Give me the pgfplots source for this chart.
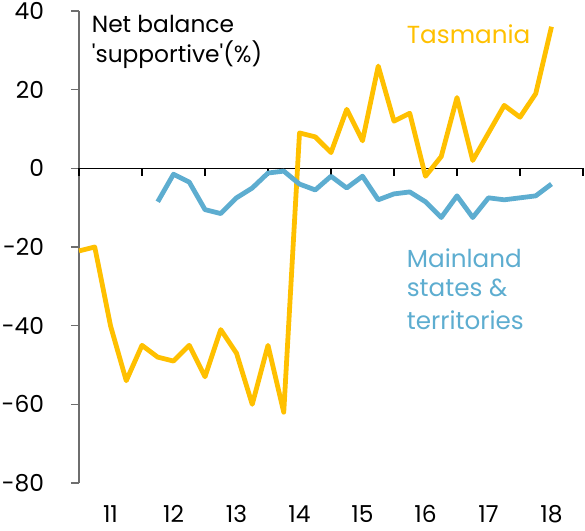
\documentclass[border=0pt]{standalone}
\usepackage{fontspec}
\setmainfont{Poppins}
\usepackage{pgfplots}
\pgfplotsset{compat=1.18}
\definecolor{tas}{RGB}{255,192,0}
\definecolor{mainl}{RGB}{93,173,208}
\definecolor{axgray}{RGB}{110,110,110}

\begin{document}
\begin{tikzpicture}
\begin{axis}[
    scale only axis, width=378pt, height=354pt,
    xmin=11, xmax=19, ymin=-80, ymax=40,
    axis y line=left, axis x line=bottom,
    axis line style={-},
    x axis line style={draw=none},
    y axis line style={draw=axgray, line width=0.8pt},
    xtick={11,...,19}, xticklabels={11,12,13,14,15,16,17,18},
    x tick label as interval,
    xtick style={draw=none},
    ytick={-80,-60,...,40},
    ytick style={draw=axgray, line width=0.8pt},
    tick align=outside, major tick length=6pt,
    tick label style={font=\fontsize{17.5}{17.5}\selectfont},
    /pgf/number format/assume math mode=true,
    xticklabel style={anchor=base, yshift=-24pt},
    yticklabel style={anchor=east, inner sep=0pt, xshift=-20pt},
    clip=false,
]
    \draw[black, line width=0.8pt] (axis cs:11,0) -- (axis cs:19,0);
    \draw[black, line width=0.8pt]
        (axis cs:11,0) -- (axis cs:11,-2) (axis cs:12,0) -- (axis cs:12,-2)
        (axis cs:13,0) -- (axis cs:13,-2) (axis cs:14,0) -- (axis cs:14,-2)
        (axis cs:15,0) -- (axis cs:15,-2) (axis cs:16,0) -- (axis cs:16,-2)
        (axis cs:17,0) -- (axis cs:17,-2) (axis cs:18,0) -- (axis cs:18,-2)
        (axis cs:19,0) -- (axis cs:19,-2);
    % Tasmania
    \addplot[tas, line width=3.6pt, line join=round] coordinates {
        (11.00,-21) (11.25,-20) (11.50,-40) (11.75,-54)
        (12.00,-45) (12.25,-48) (12.50,-49) (12.75,-45)
        (13.00,-53) (13.25,-41) (13.50,-47) (13.75,-60)
        (14.00,-45) (14.25,-62) (14.50,9) (14.75,8)
        (15.00,4) (15.25,15) (15.50,7) (15.75,26)
        (16.00,12) (16.25,14) (16.50,-2) (16.75,3)
        (17.00,18) (17.25,2) (17.50,9) (17.75,16)
        (18.00,13) (18.25,19) (18.50,36)
    };
    % Mainland states & territories
    \addplot[mainl, line width=3.6pt, line join=round] coordinates {
        (12.25,-8.5) (12.50,-1.5) (12.75,-3.5)
        (13.00,-10.5) (13.25,-11.5) (13.50,-7.5) (13.75,-5)
        (14.00,-1.2) (14.25,-0.7) (14.50,-4) (14.75,-5.5)
        (15.00,-2) (15.25,-5) (15.50,-2) (15.75,-8)
        (16.00,-6.5) (16.25,-6) (16.50,-8.5) (16.75,-12.5)
        (17.00,-7) (17.25,-12.5) (17.50,-7.5) (17.75,-8)
        (18.00,-7.5) (18.25,-7) (18.50,-4)
    };
    \node[anchor=base west, inner sep=0pt, font=\fontsize{17.5}{17.5}\selectfont] at (axis cs:11.2,34.6) {Net balance};
    \node[anchor=base west, inner sep=0pt, font=\fontsize{17.5}{17.5}\selectfont] at (axis cs:11.2,27.0) {\textquotesingle supportive\textquotesingle(\%)};
    \node[anchor=base west, inner sep=0pt, text=tas, font=\fontsize{18.5}{18.5}\selectfont] at (axis cs:16.2,31.7) {Tasmania};
    \node[anchor=base west, inner sep=0pt, text=mainl, font=\fontsize{18.5}{18.5}\selectfont] at (axis cs:16.2,-25.1) {Mainland};
    \node[anchor=base west, inner sep=0pt, text=mainl, font=\fontsize{18.5}{18.5}\selectfont] at (axis cs:16.2,-32.7) {states \&};
    \node[anchor=base west, inner sep=0pt, text=mainl, font=\fontsize{18.5}{18.5}\selectfont] at (axis cs:16.2,-41.1) {territories};
\end{axis}
\path[use as bounding box] (-59.25pt,-36pt) rectangle (379.5pt,362.25pt);
\end{tikzpicture}
\end{document}
